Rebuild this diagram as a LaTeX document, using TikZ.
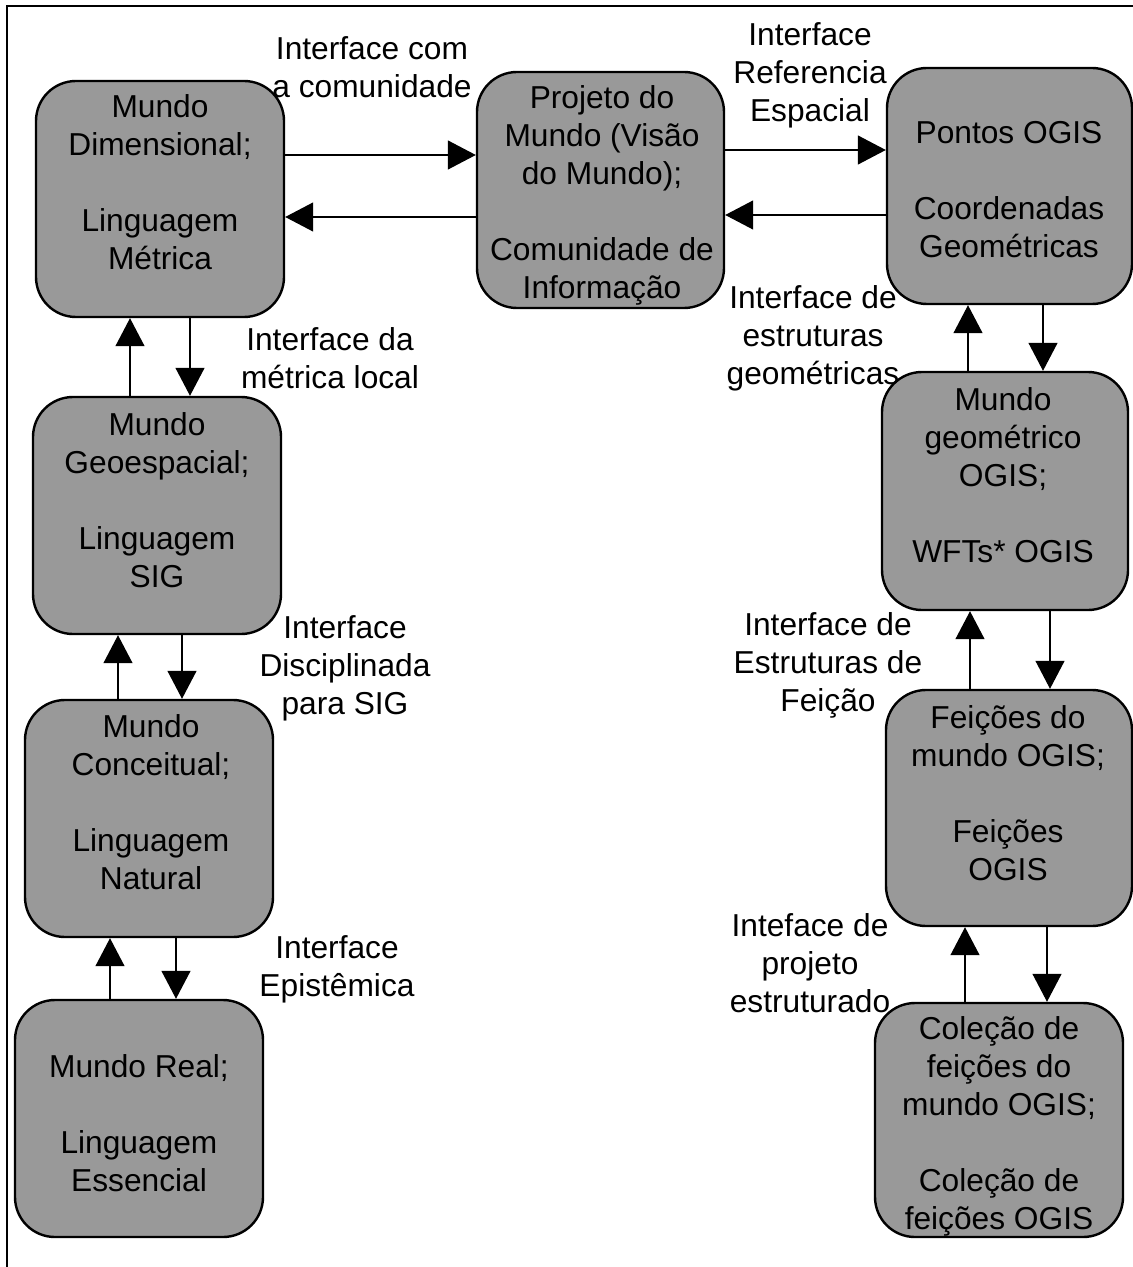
\documentclass[tikz,border=0pt]{standalone}
\usepackage{fontspec}
\setmainfont{Liberation Sans}
\usetikzlibrary{arrows.meta}
\definecolor{boxgray}{RGB}{153,153,153}
\begin{document}
\begin{tikzpicture}[x=0.5pt,y=-0.5pt,
  every node/.style={font=\fontsize{15.85pt}{19pt}\selectfont, inner sep=0pt, align=center},
  world/.style={draw=black, line width=1.2pt, fill=boxgray, rounded corners=20pt,
    rectangle, minimum width=#1*0.5pt},
  worldh/.style={minimum height=#1*0.5pt},
  arr/.style={line width=0.65pt, -{Triangle[length=14pt,width=14.5pt]}}]
\useasboundingbox (0,0) rectangle (1133,1267);
% frame
\draw[line width=1pt] (7,1267) -- (7,6) -- (1133,6);

% world boxes
\node[world=248, worldh=236] (dim)  at (160,199)    {};
\node[world=247, worldh=236] (proj) at (600.5,190)  {};
\node[world=245, worldh=236] (pont) at (1009.5,186) {};
\node[world=248, worldh=237] (geo)  at (157,515.5)  {};
\node[world=248, worldh=237] (conc) at (149,818.5)  {};
\node[world=248, worldh=237] (real) at (139,1118.5) {};
\node[world=246, worldh=238] (geog) at (1005,491)   {};
\node[world=246, worldh=236] (feic) at (1009,808)   {};
\node[world=248, worldh=234] (cole) at (999,1120)   {};

% box texts
\node (tdim)  at (160,182.5)  {Mundo\\Dimensional;\\ \\Linguagem\\Métrica};
\node (tproj) at (602,195.5)  {Projeto do\\Mundo (Visão\\do Mundo);\\ \\Comunidade de\\Informação};
\node (tpont) at (1009,189.5) {Pontos OGIS\\ \\Coordenadas\\Geométricas};
\node (tgeo)  at (157,500)    {Mundo\\Geoespacial;\\ \\Linguagem\\SIG};
\node (tconc) at (151,802.5)  {Mundo\\Conceitual;\\ \\Linguagem\\Natural};
\node (treal) at (139,1123)   {Mundo Real;\\ \\Linguagem\\Essencial};
\node (tgeog) at (1003,475)   {Mundo\\geométrico\\OGIS;\\ \\WFTs* OGIS};
\node (tfeic) at (1008,793.5) {Feições do\\mundo OGIS;\\ \\Feições\\OGIS};
\node (tcole) at (999,1126.5) {Coleção de\\feições do\\mundo OGIS;\\ \\Coleção de\\feições OGIS};

% interface labels
\node (lcom)  at (372,67.5) {Interface com\\a comunidade};
\node (lref)  at (810,75)   {Interface\\Referencia\\Espacial};
\node (lest)  at (813,338)  {Interface de\\estruturas\\geométricas};
\node (lmet)  at (330,358)  {Interface da\\métrica local};
\node (ldis)  at (345,668)  {Interface\\Disciplinada\\para SIG};
\node (lfei)  at (828,665.5){Interface de\\Estruturas de\\Feição};
\node (lepi)  at (337,969)  {Interface\\Epistêmica};
\node (lproj) at (810,963)  {Inteface de\\projeto\\estruturado};

% horizontal connectors
\draw[arr] (dim.east |- 0,155)  -- (proj.west |- 0,155);
\draw[arr] (proj.west |- 0,217) -- (dim.east |- 0,217);
\draw[arr] (proj.east |- 0,150) -- (pont.west |- 0,150);
\draw[arr] (pont.west |- 0,215) -- (proj.east |- 0,215);

% vertical connectors, left column
\draw[arr] (geo.north -| 130,0)  -- (dim.south -| 130,0);
\draw[arr] (dim.south -| 190,0)  -- (geo.north -| 190,0);
\draw[arr] (conc.north -| 118,0) -- (geo.south -| 118,0);
\draw[arr] (geo.south -| 182,0)  -- (conc.north -| 182,0);
\draw[arr] (real.north -| 110,0) -- (conc.south -| 110,0);
\draw[arr] (conc.south -| 176,0) -- (real.north -| 176,0);

% vertical connectors, right column
\draw[arr] (geog.north -| 968,0) -- (pont.south -| 968,0);
\draw[arr] (pont.south -| 1043,0) -- (geog.north -| 1043,0);
\draw[arr] (feic.north -| 970,0) -- (geog.south -| 970,0);
\draw[arr] (geog.south -| 1050,0) -- (feic.north -| 1050,0);
\draw[arr] (cole.north -| 965,0) -- (feic.south -| 965,0);
\draw[arr] (feic.south -| 1047,0) -- (cole.north -| 1047,0);
\end{tikzpicture}
\end{document}
